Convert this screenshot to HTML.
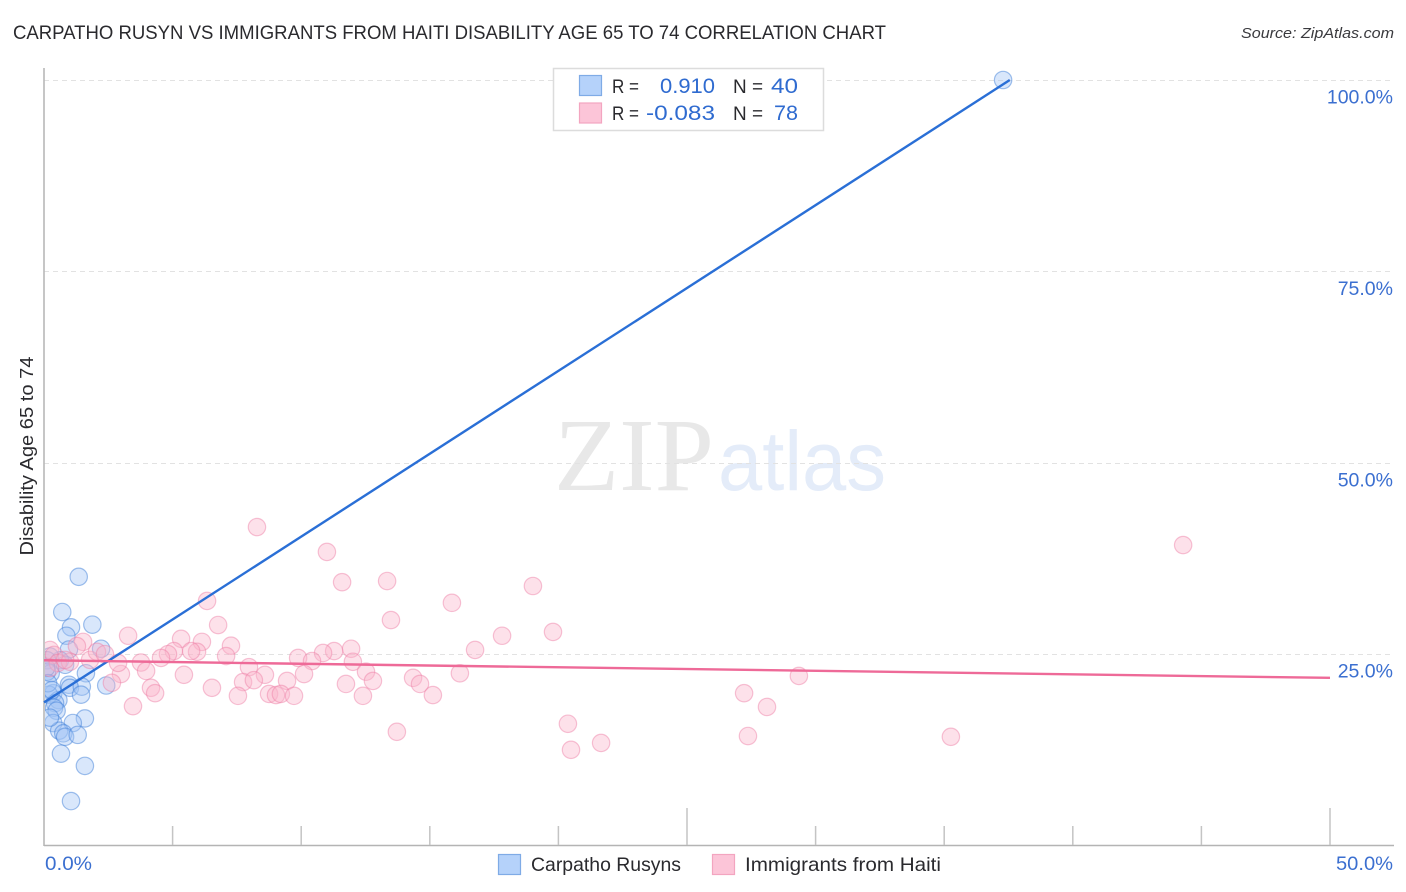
<!DOCTYPE html>
<html lang="en">
<head>
<meta charset="utf-8">
<title>Carpatho Rusyn vs Immigrants from Haiti Disability Age 65 to 74 Correlation Chart</title>
<style>
html,body{margin:0;padding:0;background:#fff;width:1406px;height:892px;overflow:hidden}
svg{display:block;font-family:"Liberation Sans",sans-serif}
.tick-label{font-size:19.5px;fill:#3b6fd0}
.dark{fill:#2a2a2e}
.stat{font-size:21.5px;fill:#2f6bd0}
.stat-label{font-size:19.5px;fill:#2a2a2e}
</style>
</head>
<body>
<svg id="chart" width="1406" height="892" viewBox="0 0 1406 892" xmlns="http://www.w3.org/2000/svg">
  <defs>
    <clipPath id="plot-clip"><rect x="45" y="60" width="1350" height="785"/></clipPath>
  </defs>
  <text class="dark" x="13" y="39" font-size="19.5" textLength="873" lengthAdjust="spacingAndGlyphs">CARPATHO RUSYN VS IMMIGRANTS FROM HAITI DISABILITY AGE 65 TO 74 CORRELATION CHART</text>
  <text x="1394" y="38" font-size="15" font-style="italic" fill="#3a3a3e" text-anchor="end" textLength="153" lengthAdjust="spacingAndGlyphs">Source: ZipAtlas.com</text>

  <g>
    <text x="554" y="490" font-family="'Liberation Serif',serif" font-size="104" fill="#e8e8e8" textLength="160" lengthAdjust="spacingAndGlyphs">ZIP</text>
    <text x="718" y="490" font-size="84" fill="#e4ecf9" textLength="168" lengthAdjust="spacingAndGlyphs">atlas</text>
  </g>

  <g id="grid"></g>
  <g id="axes"></g>
  <g id="points" clip-path="url(#plot-clip)"></g>
  <g id="trends"></g>
  <g id="labels"></g>

  <text class="dark" transform="translate(33,456) rotate(-90)" font-size="18.5" text-anchor="middle" textLength="199" lengthAdjust="spacingAndGlyphs">Disability Age 65 to 74</text>

  <g>
    <rect x="553.5" y="68.5" width="270" height="62" fill="#fff" stroke="#dcdcdc" stroke-width="1.5"/>
    <rect x="579.5" y="75.5" width="22" height="20" fill="#b5d2fa" stroke="#7fabe6" stroke-width="1.2"/>
    <rect x="579.5" y="103" width="22" height="20" fill="#fcc5d8" stroke="#f3a5c0" stroke-width="1.2"/>
    <text class="stat-label" x="612" y="93" textLength="27" lengthAdjust="spacingAndGlyphs">R =</text>
    <text class="stat" x="660" y="93" textLength="55" lengthAdjust="spacingAndGlyphs">0.910</text>
    <text class="stat-label" x="733" y="93" textLength="30" lengthAdjust="spacingAndGlyphs">N =</text>
    <text class="stat" x="771" y="93" textLength="27" lengthAdjust="spacingAndGlyphs">40</text>
    <text class="stat-label" x="612" y="120" textLength="27" lengthAdjust="spacingAndGlyphs">R =</text>
    <text class="stat" x="646" y="120" textLength="69" lengthAdjust="spacingAndGlyphs">-0.083</text>
    <text class="stat-label" x="733" y="120" textLength="30" lengthAdjust="spacingAndGlyphs">N =</text>
    <text class="stat" x="774" y="120" textLength="24" lengthAdjust="spacingAndGlyphs">78</text>
  </g>

  <g>
    <g>
      <rect x="498.5" y="854.5" width="22" height="20" fill="#b5d2fa" stroke="#7fabe6" stroke-width="1.2"/>
      <text class="dark" x="531" y="871" font-size="19.5" textLength="150" lengthAdjust="spacingAndGlyphs">Carpatho Rusyns</text>
    </g>
    <g>
      <rect x="712.5" y="854.5" width="22" height="20" fill="#fcc5d8" stroke="#f3a5c0" stroke-width="1.2"/>
      <text class="dark" x="745" y="871" font-size="19.5" textLength="196" lengthAdjust="spacingAndGlyphs">Immigrants from Haiti</text>
    </g>
  </g>
</svg>
<script>
var carpathoX = [1.35,0.71,1.05,1.88,0.87,2.22,0.97,0.62,0.23,0.12,0.26,0.12,0.82,1.63,2.42,0.97,1.01,1.47,1.44,0.36,0.56,0.19,0.43,0.39,0.49,1.59,1.12,0.36,0.59,0.75,0.82,1.31,0.66,1.59,1.05,37.29,0.08,0.16,0.31,0.23];
var carpathoY = [35.1,30.5,28.5,28.85,27.4,25.7,25.6,24.2,24.7,24.2,22.5,22.7,23.6,22.5,20.9,21.0,20.6,20.75,19.7,19.9,19.0,19.7,18.6,18.0,17.6,16.6,16.0,16.0,15.0,14.65,14.2,14.45,12.0,10.4,5.8,100,23.2,21.2,20.3,16.7];
var haitiX = [8.28,11.0,11.59,13.34,6.34,13.49,15.86,19.01,44.29,6.77,3.27,5.33,6.14,7.27,17.81,19.79,11.94,16.76,11.28,10.85,9.88,10.42,12.01,7.08,5.95,5.72,5.05,4.82,4.55,3.77,3.97,2.99,5.44,7.97,8.59,10.11,9.45,7.74,8.16,12.52,12.79,11.74,14.35,14.62,15.12,16.17,29.35,6.53,7.54,8.75,9.02,9.21,9.72,12.4,4.16,4.32,3.46,2.64,27.22,28.11,13.72,20.37,20.49,21.66,27.37,35.26,0.23,1.52,1.28,1.79,2.06,2.37,2.88,0.39,0.54,1.01,0.82,0.23];
var haitiY = [41.6,38.35,34.4,34.55,31.95,29.45,31.7,33.9,39.25,28.8,27.4,27.0,26.6,26.1,27.4,27.9,25.7,25.55,25.4,25.15,24.5,24.1,24.0,24.75,25.3,25.4,25.4,25.0,24.5,23.9,22.8,22.4,22.3,23.3,22.3,22.4,21.5,21.35,21.6,22.7,21.5,21.1,21.9,21.1,19.65,22.5,22.15,20.6,19.55,19.8,19.65,19.8,19.55,19.55,20.6,19.9,18.2,21.25,19.9,18.1,14.85,15.9,12.5,13.4,14.3,14.2,25.55,26.6,26.05,24.25,25.3,25.0,23.85,24.9,23.85,24.0,24.25,23.2];
var carpathoTrendX = [0, 37.55];
var carpathoTrendY = [18.7, 100];
var haitiTrendX = [0, 50];
var haitiTrendY = [24.2, 21.9];
var xTickValues = [0,5,10,15,20,25,30,35,40,45,50];
var xTickLabels = ["0.0%","50.0%"];
var xLabelValues = [0,50];
var yTickValues = [25,50,75,100];
var yTickLabels = ["25.0%","50.0%","75.0%","100.0%"];

function xScale(v){ return 44 + v * 25.72; }
function yScale(v){ return 845.5 - v * 7.655; }

var NS = 'http://www.w3.org/2000/svg';
function make(parent, tag, attrs){
  var el = document.createElementNS(NS, tag);
  for (var k in attrs) el.setAttribute(k, attrs[k]);
  parent.appendChild(el);
  return el;
}
var grid = document.getElementById('grid');
var axes = document.getElementById('axes');
var points = document.getElementById('points');
var trends = document.getElementById('trends');
var labels = document.getElementById('labels');

yTickValues.forEach(function(v, i){
  var y = Math.round(yScale(v)) + 0.5;
  var line = make(grid, 'line', {x1:44, x2:1393, y1:y, y2:y, stroke:'#e2e2e2', 'stroke-width':1, 'stroke-dasharray':'5 4'});
  
  
  var t = make(labels, 'text', {x:1393, y:yScale(v) + 23.5, 'class':'tick-label', 'text-anchor':'end'});
  t.textContent = yTickLabels[i];
  
  
});

var yAxis = make(axes, 'line', {x1:44, x2:44, y1:68, y2:846, stroke:'#b4b4b4', 'stroke-width':1.5});


var xAxis = make(axes, 'line', {x1:44, x2:1394, y1:845.5, y2:845.5, stroke:'#b4b4b4', 'stroke-width':1.5});



xTickValues.forEach(function(v){
  if (v === 0) return;
  var tall = (v === 25 || v === 50);
  var tick = make(axes, 'line', {x1:xScale(v), x2:xScale(v), y1:tall ? 808 : 826, y2:845, stroke:'#c4c4c4', 'stroke-width':1.5});
  
  
});

xLabelValues.forEach(function(v, i){
  var t = make(labels, 'text', {x:v === 0 ? 45 : 1393, y:870, 'class':'tick-label', 'text-anchor':v === 0 ? 'start' : 'end'});
  t.textContent = xTickLabels[i];
  t.setAttribute('textLength', v === 0 ? '47' : '57');
  t.setAttribute('lengthAdjust', 'spacingAndGlyphs');
  
  
});

carpathoX.forEach(function(v, i){
  var c = make(points, 'circle', {cx:xScale(v), cy:yScale(carpathoY[i]), r:8.7, fill:'rgba(160,196,245,0.4)', stroke:'rgba(60,125,215,0.48)', 'stroke-width':1.2});
  
  
});
haitiX.forEach(function(v, i){
  var c = make(points, 'circle', {cx:xScale(v), cy:yScale(haitiY[i]), r:8.7, fill:'rgba(250,180,203,0.4)', stroke:'rgba(238,125,165,0.45)', 'stroke-width':1.2});
  
  
});

var blueLine = make(trends, 'line', {x1:xScale(carpathoTrendX[0]), y1:yScale(carpathoTrendY[0]), x2:xScale(carpathoTrendX[1]), y2:yScale(carpathoTrendY[1]), stroke:'#2a6fd6', 'stroke-width':2.4});


var pinkLine = make(trends, 'line', {x1:xScale(haitiTrendX[0]), y1:yScale(haitiTrendY[0]), x2:xScale(haitiTrendX[1]), y2:yScale(haitiTrendY[1]), stroke:'#ee6a98', 'stroke-width':2.4});


</script>
</body>
</html>
